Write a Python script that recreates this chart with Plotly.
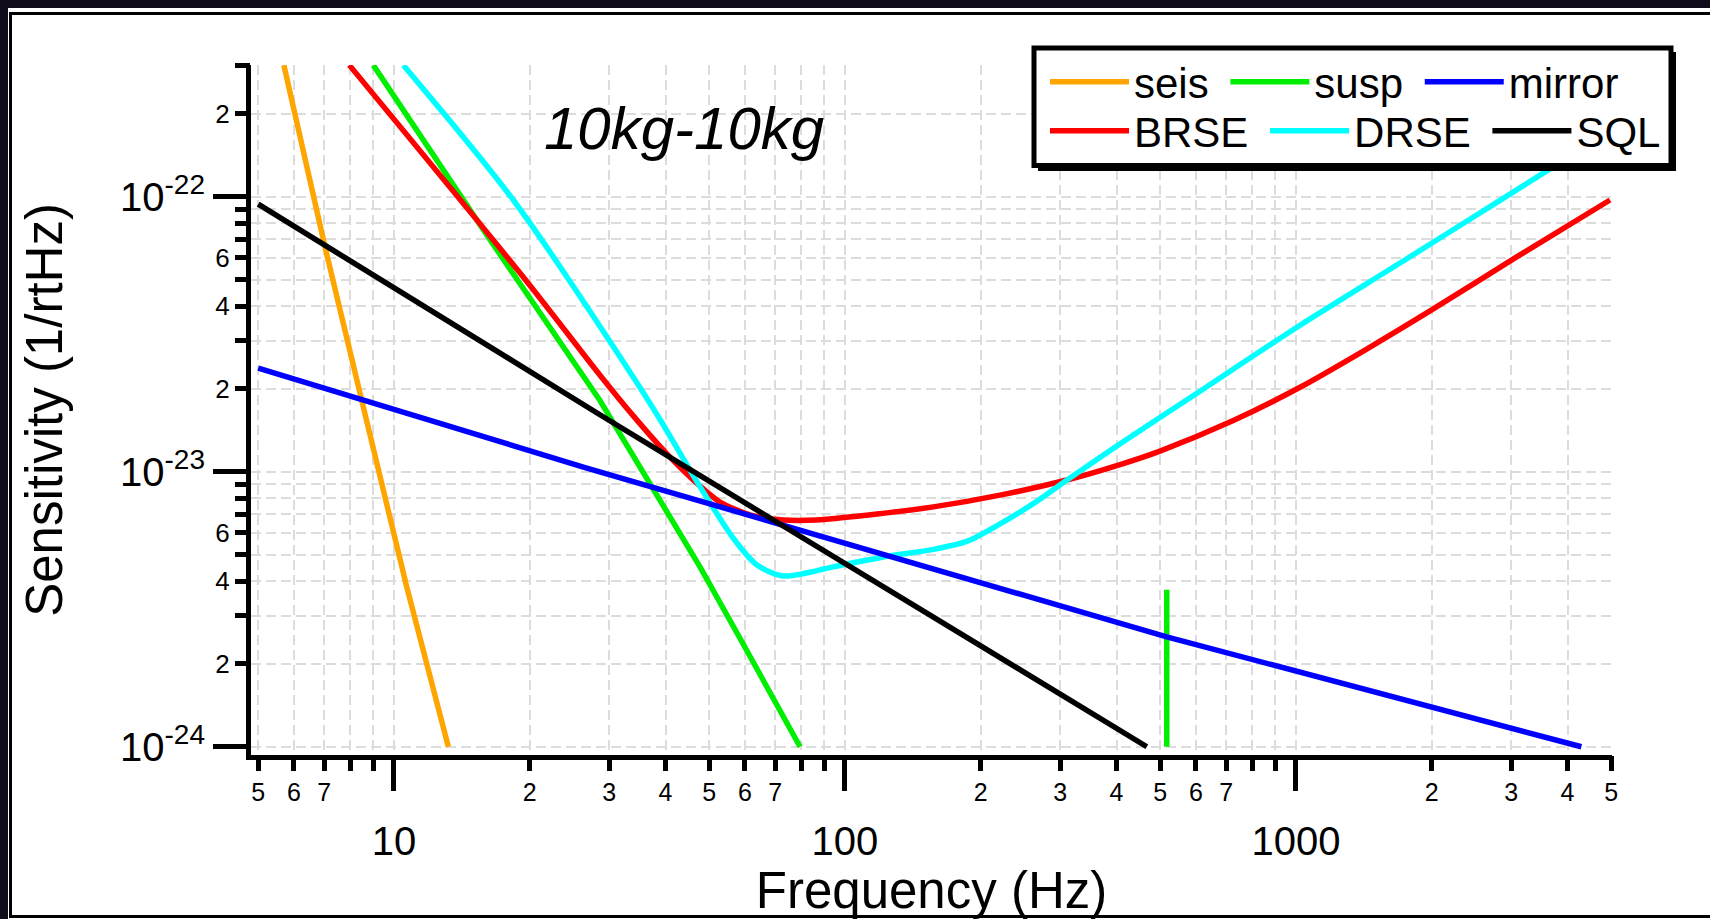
import plotly.graph_objects as go

# ---------------- data ----------------
seis_f = [5.70, 7.03, 8.55, 10.67, 13.2]
seis_h = [3.01e-22, 6.58e-23, 1.72e-23, 3.82e-24, 1.0e-24]

susp_f = [9.00, 16.3, 28.6, 47.7, 58.5, 79.5, None, 517, 517]
susp_h = [3.01e-22, 7.0e-23, 1.82e-23, 4.51e-24, 2.48e-24, 1.0e-24, None, 1.0e-24, 3.72e-24]

mirror_f = [5.0, 26.3, 517, 4293]
mirror_h = [2.38e-23, 1.04e-23, 2.51e-24, 1.0e-24]

brse_f = [7.96, 19.70, 28.63, 33.94, 40.24, 47.70, 52.83, 61.56, 72.99, 86.55, 111.7,
          157.0, 220.7, 310.1, 407.3, 499.4, 726.1, 1021, 1435, 2016, 3086, 4969]
brse_h = [3.01e-22, 4.92e-23, 2.244e-23, 1.596e-23, 1.164e-23, 8.87e-24, 7.76e-24, 6.97e-24,
          6.68e-24, 6.68e-24, 6.95e-24, 7.45e-24, 8.22e-24, 9.33e-24, 1.062e-23, 1.189e-23,
          1.535e-23, 2.028e-23, 2.793e-23, 3.908e-23, 6.04e-23, 9.73e-23]

drse_f = [10.49, 18.39, 33.94, 38.90, 47.70, 56.55, 63.71, 72.99, 94.21, 121.6, 157.0,
          186.2, 220.7, 261.5, 310.1, 403.6, 612.6, 1021, 1701, 2834, 4969]
drse_h = [3.01e-22, 9.73e-23, 2.208e-23, 1.549e-23, 8.83e-24, 5.73e-24, 4.59e-24, 4.18e-24,
          4.51e-24, 4.90e-24, 5.22e-24, 5.58e-24, 6.46e-24, 7.66e-24, 9.31e-24, 1.25e-23,
          1.963e-23, 3.41e-23, 5.74e-23, 9.70e-23, 1.73e-22]

sql_f = [5.0, 29.1, 467]
sql_h = [9.4e-23, 1.585e-23, 1.0e-24]

# tick values / labels
x_major_vals = [10, 100, 1000]
x_major_text = ["10", "100", "1000"]
x_minor_vals = [5, 6, 7, 8, 9, 20, 30, 40, 50, 60, 70, 80, 90,
                200, 300, 400, 500, 600, 700, 800, 900, 2000, 3000, 4000, 5000]
x_minor_text = ["5", "6", "7", "", "", "2", "3", "4", "5", "6", "7", "", "",
                "2", "3", "4", "5", "6", "7", "", "", "2", "3", "4", "5"]
y_major_vals = [1e-24, 1e-23, 1e-22]
y_major_text = ["10<sup>-24</sup>", "10<sup>-23</sup>", "10<sup>-22</sup>"]
y_minor_vals = [2e-24, 3e-24, 4e-24, 5e-24, 6e-24, 7e-24, 8e-24, 9e-24,
                2e-23, 3e-23, 4e-23, 5e-23, 6e-23, 7e-23, 8e-23, 9e-23,
                2e-22, 3e-22]
y_minor_text = ["2", "", "4", "", "6", "", "", "",
                "2", "", "4", "", "6", "", "", "",
                "2", ""]

# ---------------- figure ----------------
FONT = "Liberation Sans, Arial, sans-serif"
OFF = 8                      # page body margin (top / left)
W, H = 1710 - OFF, 919 - OFF
# plot area in screen pixels
SL, SR, ST, SB = 251, 1612, 65, 755
PL, PR, PT, PB = SL - OFF, SR - OFF, ST - OFF, SB - OFF


def px(X):  # screen x -> paper
    return (X - SL) / (SR - SL)


def py(Y):  # screen y -> paper
    return (SB - Y) / (SB - ST)


NB = "\u00a0"
fig = go.Figure()
series = [
    ("seis" + NB, seis_f, seis_h, "#FFA500", "legend", "linear", "x", "y"),
    ("susp" + NB, susp_f, susp_h, "#00EE00", "legend", "linear", "x", "y"),
    ("mirror", mirror_f, mirror_h, "#0000FF", "legend", "linear", "x", "y2"),
    ("BRSE" + NB, brse_f, brse_h, "#FF0000", "legend2", "spline", "x", "y"),
    ("DRSE" + NB, drse_f, drse_h, "#00FFFF", "legend2", "spline", "x", "y"),
    ("SQL", sql_f, sql_h, "#000000", "legend2", "linear", "x2", "y"),
]
for name, fx, hy, col, leg, shp, xa, ya in series:
    fig.add_trace(go.Scatter(x=fx, y=hy, name=name, mode="lines",
                             line=dict(color=col, width=5.5, shape=shp, smoothing=0.8),
                             connectgaps=False, legend=leg, xaxis=xa, yaxis=ya))

grid = dict(showgrid=True, gridcolor="#dcdcdc", gridwidth=1.5, griddash="10px,5px")
xr = [0.683, 3.7007]
yr = [-24.030, -21.521]

fig.update_layout(
    width=W, height=H, autosize=False,
    margin=dict(l=PL, r=W - PR, t=PT, b=H - PB, pad=0),
    paper_bgcolor="white", plot_bgcolor="white",
    font=dict(family=FONT, color="black"),
    xaxis=dict(type="log", range=xr, tickmode="array", tickvals=x_major_vals,
               ticktext=x_major_text, ticks="outside", ticklen=31, tickwidth=5,
               tickcolor="black", tickfont=dict(size=40), ticklabelstandoff=16,
               showline=True, linewidth=5, linecolor="black", zeroline=False,
               title=dict(text="Frequency (Hz)", font=dict(size=51), standoff=5),
               **grid),
    xaxis2=dict(type="log", range=xr, overlaying="x", anchor="y", side="bottom",
                tickmode="array", tickvals=x_minor_vals, ticktext=x_minor_text,
                ticks="outside", ticklen=15, tickwidth=5, tickcolor="black",
                tickfont=dict(size=25), showline=False, zeroline=False, **grid),
    yaxis=dict(type="log", range=yr, tickmode="array", tickvals=y_major_vals,
               ticktext=y_major_text, ticks="outside", ticklen=33, tickwidth=5,
               tickcolor="black", tickfont=dict(size=40),
               showline=True, linewidth=5, linecolor="black", zeroline=False,
               title=dict(text="Sensitivity (1/rtHz)", font=dict(size=51), standoff=43),
               **grid),
    yaxis2=dict(type="log", range=yr, overlaying="y", anchor="x", side="left",
                tickmode="array", tickvals=y_minor_vals, ticktext=y_minor_text,
                ticks="outside", ticklen=15, tickwidth=5, tickcolor="black",
                tickfont=dict(size=26), showline=False, zeroline=False, **grid),
    legend=dict(orientation="h", x=px(1045), y=py(82), xanchor="left", yanchor="middle",
                font=dict(size=42), itemwidth=79, bgcolor="rgba(0,0,0,0)", borderwidth=0),
    legend2=dict(orientation="h", x=px(1045), y=py(131), xanchor="left", yanchor="middle",
                 font=dict(size=42), itemwidth=79, bgcolor="rgba(0,0,0,0)", borderwidth=0),
    showlegend=True,
)

shapes = [
    # thin black frame of the slide panel
    dict(type="rect", xref="paper", yref="paper", layer="below",
         x0=px(10.5), x1=px(1740), y0=py(13.5), y1=py(916.5),
         fillcolor="rgba(0,0,0,0)", line=dict(color="black", width=3)),
    # white background behind the title label
    dict(type="rect", xref="paper", yref="paper", layer="between",
         x0=px(528), x1=px(860), y0=py(87), y1=py(163),
         fillcolor="white", line=dict(width=0)),
    # legend box shadow + box
    dict(type="rect", xref="paper", yref="paper", layer="above",
         x0=px(1038), x1=px(1676), y0=py(52), y1=py(171),
         fillcolor="black", line=dict(width=0)),
    dict(type="rect", xref="paper", yref="paper", layer="above",
         x0=px(1034), x1=px(1671), y0=py(48), y1=py(165.5),
         fillcolor="white", line=dict(color="black", width=5)),
]
fig.update_layout(shapes=shapes)

fig.add_annotation(xref="paper", yref="paper", x=px(684), y=py(128),
                   xanchor="center", yanchor="middle", showarrow=False,
                   text="<i>10kg-10kg</i>", font=dict(size=60, family=FONT, color="black"))

fig.write_html("out.html",
               post_script="document.body.style.background='#100c1c';"
                           "document.body.style.margin='8px 0 0 8px';"
                           "document.body.style.overflow='hidden';")
